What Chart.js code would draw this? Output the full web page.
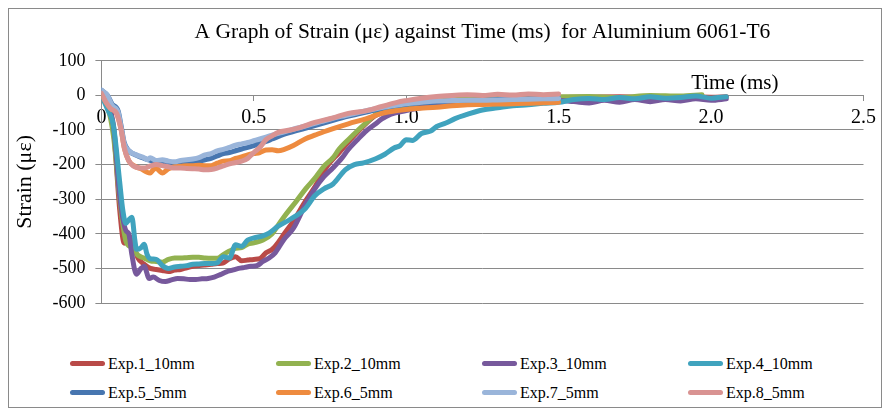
<!DOCTYPE html>
<html>
<head>
<meta charset="utf-8">
<script src="https://cdn.jsdelivr.net/npm/chart.js@4.4.0/dist/chart.umd.min.js"></script>
<style>
    body { margin: 0; background: #fff; }
    #frame { position: absolute; left: 8px; top: 8px; width: 874px; height: 400px; border: 1px solid #8a8a8a; box-sizing: border-box; }
    #wrap { position: absolute; left: 0; top: 0; width: 872px; height: 335px; }
    #legend { position: absolute; left: 61px; top: 340px; display: grid; grid-template-columns: repeat(4, 206px); grid-auto-rows: 29px;
              font-family: "Liberation Serif", serif; font-size: 16px; color: #000; }
    .item { display: flex; align-items: center; white-space: nowrap; }
    .swatch { display: inline-block; width: 35px; height: 5px; border-radius: 3px; margin-right: 3px; }
</style>
</head>
<body>
<div id="frame">
    <div id="wrap"><canvas id="strain-chart"></canvas></div>
    <div id="legend"></div>
</div>
<script>
// Exp.1 - Exp.4 : 10mm, Exp.5 - Exp.8 : 5mm (time in ms, strain in µε)
const seriesNames = ['Exp.1_10mm', 'Exp.2_10mm', 'Exp.3_10mm', 'Exp.4_10mm', 'Exp.5_5mm', 'Exp.6_5mm', 'Exp.7_5mm', 'Exp.8_5mm'];
const seriesColors = ['#B94A48', '#92B250', '#77599C', '#40A3BE', '#4776B0', '#EE8B3F', '#9AB5DA', '#D99392'];

const t1 = [0, 0.02, 0.04, 0.06, 0.075, 0.085, 0.1, 0.12, 0.14, 0.16, 0.18, 0.2, 0.22, 0.24, 0.26, 0.28, 0.3, 0.32, 0.34, 0.36, 0.38, 0.4, 0.42, 0.44, 0.46, 0.48, 0.5, 0.52, 0.54, 0.56, 0.58, 0.6, 0.63, 0.67, 0.7, 0.74, 0.78, 0.82, 0.86, 0.9, 0.94, 0.98, 1.02, 1.06, 1.1, 1.15, 1.2, 1.3, 1.4, 1.5, 1.6, 1.7, 1.8, 1.9, 2.0, 2.05];
const s1 = [0, -20, -100, -330, -427, -400, -420, -470, -488, -500, -503, -506, -509, -505, -503, -498, -494, -492, -490, -488, -486, -484, -472, -466, -478, -476, -474, -472, -455, -445, -425, -400, -363, -305, -265, -205, -165, -125, -88, -58, -45, -35, -28, -22, -18, -15, -12, -10, -8, -6, -5, -4, -6, -3, -5, -4];

const t2 = [0, 0.02, 0.04, 0.06, 0.08, 0.1, 0.12, 0.14, 0.16, 0.18, 0.2, 0.22, 0.24, 0.26, 0.28, 0.3, 0.32, 0.34, 0.36, 0.38, 0.4, 0.42, 0.44, 0.46, 0.48, 0.5, 0.53, 0.56, 0.58, 0.6, 0.64, 0.67, 0.7, 0.73, 0.76, 0.78, 0.81, 0.84, 0.87, 0.9, 0.94, 0.98, 1.02, 1.06, 1.1, 1.15, 1.2, 1.3, 1.4, 1.5, 1.6, 1.7, 1.8, 1.9, 1.97];
const s2 = [0, -30, -120, -300, -420, -440, -462, -470, -478, -480, -482, -474, -470, -470, -469, -468, -468, -470, -471, -471, -460, -450, -442, -440, -430, -426, -418, -400, -375, -350, -305, -270, -240, -205, -180, -155, -128, -102, -78, -55, -42, -33, -25, -20, -16, -13, -10, -8, -6, -4, -3, -6, 0, -2, 2];

const t3 = [0, 0.02, 0.04, 0.06, 0.08, 0.09, 0.1, 0.115, 0.13, 0.14, 0.157, 0.17, 0.19, 0.21, 0.23, 0.25, 0.27, 0.29, 0.31, 0.33, 0.35, 0.37, 0.39, 0.41, 0.43, 0.45, 0.47, 0.49, 0.51, 0.53, 0.55, 0.57, 0.58, 0.6, 0.63, 0.67, 0.7, 0.73, 0.76, 0.79, 0.81, 0.84, 0.87, 0.9, 0.92, 0.95, 1.0, 1.05, 1.1, 1.15, 1.2, 1.3, 1.4, 1.5, 1.55, 1.6, 1.65, 1.7, 1.75, 1.8, 1.85, 1.9, 1.95, 2.0, 2.05];
const s3 = [0, -20, -90, -290, -390, -400, -460, -517, -500, -494, -529, -525, -535, -538, -533, -529, -530, -532, -532, -530, -529, -525, -518, -510, -505, -500, -497, -494, -492, -480, -470, -455, -442, -415, -384, -314, -270, -235, -209, -180, -156, -128, -102, -82, -68, -54, -44, -35, -28, -22, -18, -15, -14, -15, -18, -22, -14, -20, -12, -18, -12, -16, -10, -14, -10];

const t4 = [0, 0.02, 0.04, 0.06, 0.07, 0.08, 0.09, 0.1, 0.11, 0.115, 0.13, 0.14, 0.15, 0.16, 0.18, 0.2, 0.22, 0.24, 0.26, 0.28, 0.3, 0.32, 0.34, 0.36, 0.38, 0.4, 0.42, 0.44, 0.46, 0.48, 0.5, 0.53, 0.55, 0.58, 0.62, 0.67, 0.7, 0.73, 0.76, 0.8, 0.83, 0.86, 0.9, 0.93, 0.96, 0.98, 1.0, 1.02, 1.05, 1.08, 1.1, 1.13, 1.16, 1.2, 1.25, 1.3, 1.35, 1.4, 1.45, 1.5, 1.55, 1.6, 1.65, 1.7, 1.75, 1.8, 1.85, 1.9, 1.95, 2.0, 2.05];
const s4 = [0, -40, -90, -250, -330, -370, -360, -352, -420, -445, -440, -430, -460, -472, -474, -492, -500, -496, -494, -492, -488, -487, -486, -486, -484, -466, -470, -432, -436, -418, -412, -406, -398, -378, -358, -326, -290, -270, -256, -215, -200, -195, -183, -170, -152, -145, -128, -130, -110, -103, -90, -80, -67, -55, -42, -36, -30, -27, -23, -20, -12, -9, -12, -6, -10, -4, -8, -6, -2, -8, -4];

const t5 = [0, 0.02, 0.035, 0.055, 0.065, 0.075, 0.09, 0.12, 0.14, 0.16, 0.18, 0.2, 0.22, 0.24, 0.26, 0.28, 0.3, 0.32, 0.34, 0.36, 0.38, 0.4, 0.42, 0.44, 0.46, 0.48, 0.5, 0.52, 0.54, 0.56, 0.6, 0.64, 0.68, 0.72, 0.76, 0.8, 0.84, 0.88, 0.92, 0.96, 1.0, 1.05, 1.1, 1.15, 1.2, 1.25, 1.3, 1.35, 1.4, 1.45, 1.5];
const s5 = [15, 0, -25, -45, -90, -137, -160, -175, -182, -188, -192, -190, -194, -196, -197, -196, -195, -190, -186, -182, -175, -168, -165, -160, -155, -150, -145, -138, -133, -126, -112, -102, -92, -82, -72, -62, -54, -46, -38, -31, -26, -22, -19, -16, -15, -13, -12, -11, -10, -9, -8];

const t6 = [0, 0.015, 0.03, 0.05, 0.065, 0.075, 0.09, 0.11, 0.13, 0.15, 0.16, 0.17, 0.18, 0.19, 0.2, 0.22, 0.24, 0.26, 0.28, 0.3, 0.32, 0.34, 0.36, 0.38, 0.4, 0.42, 0.44, 0.46, 0.48, 0.5, 0.52, 0.54, 0.56, 0.58, 0.6, 0.63, 0.67, 0.7, 0.73, 0.76, 0.81, 0.87, 0.92, 0.97, 1.03, 1.1, 1.15, 1.2, 1.25, 1.3, 1.35, 1.4, 1.45, 1.5];
const s6 = [6, -20, -38, -52, -100, -151, -189, -205, -212, -222, -224, -215, -210, -218, -224, -212, -206, -205, -203, -203, -202, -203, -203, -196, -190, -189, -182, -178, -172, -168, -165, -158, -157, -160, -156, -145, -125, -115, -105, -96, -82, -67, -52, -44, -38, -34, -30, -27, -26, -25, -24, -23, -21, -20];

const t7 = [0, 0.02, 0.035, 0.055, 0.065, 0.075, 0.09, 0.12, 0.14, 0.15, 0.16, 0.18, 0.2, 0.22, 0.24, 0.26, 0.28, 0.3, 0.32, 0.34, 0.36, 0.38, 0.4, 0.42, 0.44, 0.46, 0.48, 0.5, 0.52, 0.56, 0.6, 0.64, 0.68, 0.72, 0.76, 0.8, 0.84, 0.88, 0.92, 0.96, 1.0, 1.05, 1.1, 1.15, 1.2, 1.25, 1.3, 1.35, 1.4, 1.45, 1.5];
const s7 = [15, 0, -29, -49, -95, -140, -160, -174, -180, -186, -180, -188, -186, -190, -192, -188, -186, -184, -180, -172, -168, -160, -156, -150, -144, -140, -136, -131, -126, -115, -105, -95, -86, -76, -66, -58, -50, -42, -35, -29, -24, -20, -16, -15, -14, -14, -13, -12, -11, -10, -9];

const t8 = [0, 0.015, 0.03, 0.05, 0.065, 0.075, 0.09, 0.12, 0.14, 0.16, 0.18, 0.2, 0.22, 0.24, 0.26, 0.28, 0.3, 0.32, 0.34, 0.36, 0.38, 0.4, 0.42, 0.46, 0.48, 0.5, 0.52, 0.54, 0.56, 0.58, 0.62, 0.65, 0.7, 0.76, 0.81, 0.87, 0.92, 0.97, 1.0, 1.05, 1.1, 1.15, 1.2, 1.25, 1.3, 1.35, 1.4, 1.45, 1.5];
const s8 = [6, -20, -38, -52, -100, -151, -189, -209, -210, -204, -200, -203, -206, -210, -210, -211, -212, -213, -215, -214, -210, -204, -198, -190, -182, -165, -150, -128, -117, -107, -100, -93, -78, -65, -52, -44, -32, -20, -15, -8, -3, 0, 2, 0, 3, 1, 4, 2, 4];

const timeSeries = [t1, t2, t3, t4, t5, t6, t7, t8];
const strainSeries = [s1, s2, s3, s4, s5, s6, s7, s8];

// eksen değerleri
const xTickStep = 0.5;
const xMin = 0, xMax = 2.5;
const yTickStep = 100;
const yMin = -600, yMax = 100;

const serif = '"Liberation Serif", "Times New Roman", serif';

// veri setlerini hazırla (son seri en üstte çizilsin)
const datasets = seriesNames.map((name, i) => ({
    label: name,
    data: timeSeries[i].map((t, k) => ({ x: t, y: strainSeries[i][k] })),
    borderColor: seriesColors[i],
    backgroundColor: seriesColors[i],
    borderWidth: 5,
    pointRadius: 0,
    cubicInterpolationMode: 'monotone',
    borderCapStyle: 'round',
    borderJoinStyle: 'round',
    order: seriesNames.length - 1 - i
}));

// "Time (ms)" yazısı eksen çizgisinin üstünde
const timeLabel = {
    id: 'timeLabel',
    afterDraw(chart) {
        const { ctx, chartArea, scales } = chart;
        const y0 = scales.y.getPixelForValue(0);
        ctx.save();
        ctx.font = '21px ' + serif;
        ctx.fillStyle = '#000';
        ctx.textAlign = 'right';
        ctx.textBaseline = 'alphabetic';
        ctx.fillText('Time (ms)', chartArea.right - 85, y0 - 6);
        ctx.restore();
    }
};

const chart = new Chart(document.getElementById('strain-chart'), {
    type: 'line',
    data: { datasets: datasets },
    options: {
        responsive: true,
        maintainAspectRatio: false,
        animation: false,
        layout: { padding: { left: 3, right: 10, top: 0, bottom: 41 } },
        scales: {
            x: {
                type: 'linear',
                position: { y: 0 },
                min: xMin,
                max: xMax,
                ticks: { stepSize: xTickStep, color: '#000', font: { family: serif, size: 20 }, padding: 5 },
                grid: { drawOnChartArea: false, drawTicks: true, tickLength: 5, color: '#8a8a8a' },
                border: { color: '#8a8a8a' }
            },
            y: {
                min: yMin,
                max: yMax,
                ticks: { stepSize: yTickStep, color: '#000', font: { family: serif, size: 18 }, padding: 10 },
                grid: { color: '#8a8a8a', tickLength: 6 },
                border: { color: '#8a8a8a' },
                title: { display: true, text: 'Strain (με)', color: '#000', font: { family: serif, size: 22 }, padding: { top: 0, bottom: 4 } }
            }
        },
        plugins: {
            legend: { display: false },
            tooltip: { enabled: false },
            title: {
                display: true,
                text: 'A Graph of Strain (με) against Time (ms)  for Aluminium 6061-T6',
                color: '#000',
                font: { family: serif, size: 21.5, weight: 'normal' },
                fullSize: false,
                padding: { top: 10, bottom: 16 }
            }
        }
    },
    plugins: [timeLabel]
});

// alt kısımdaki açıklama (Excel gibi 4 sütun)
const legendBox = document.getElementById('legend');
seriesNames.forEach((name, i) => {
    const item = document.createElement('div');
    item.className = 'item';
    item.innerHTML = '<span class="swatch" style="background:' + seriesColors[i] + '"></span>' + name;
    legendBox.appendChild(item);
});
</script>
</body>
</html>
